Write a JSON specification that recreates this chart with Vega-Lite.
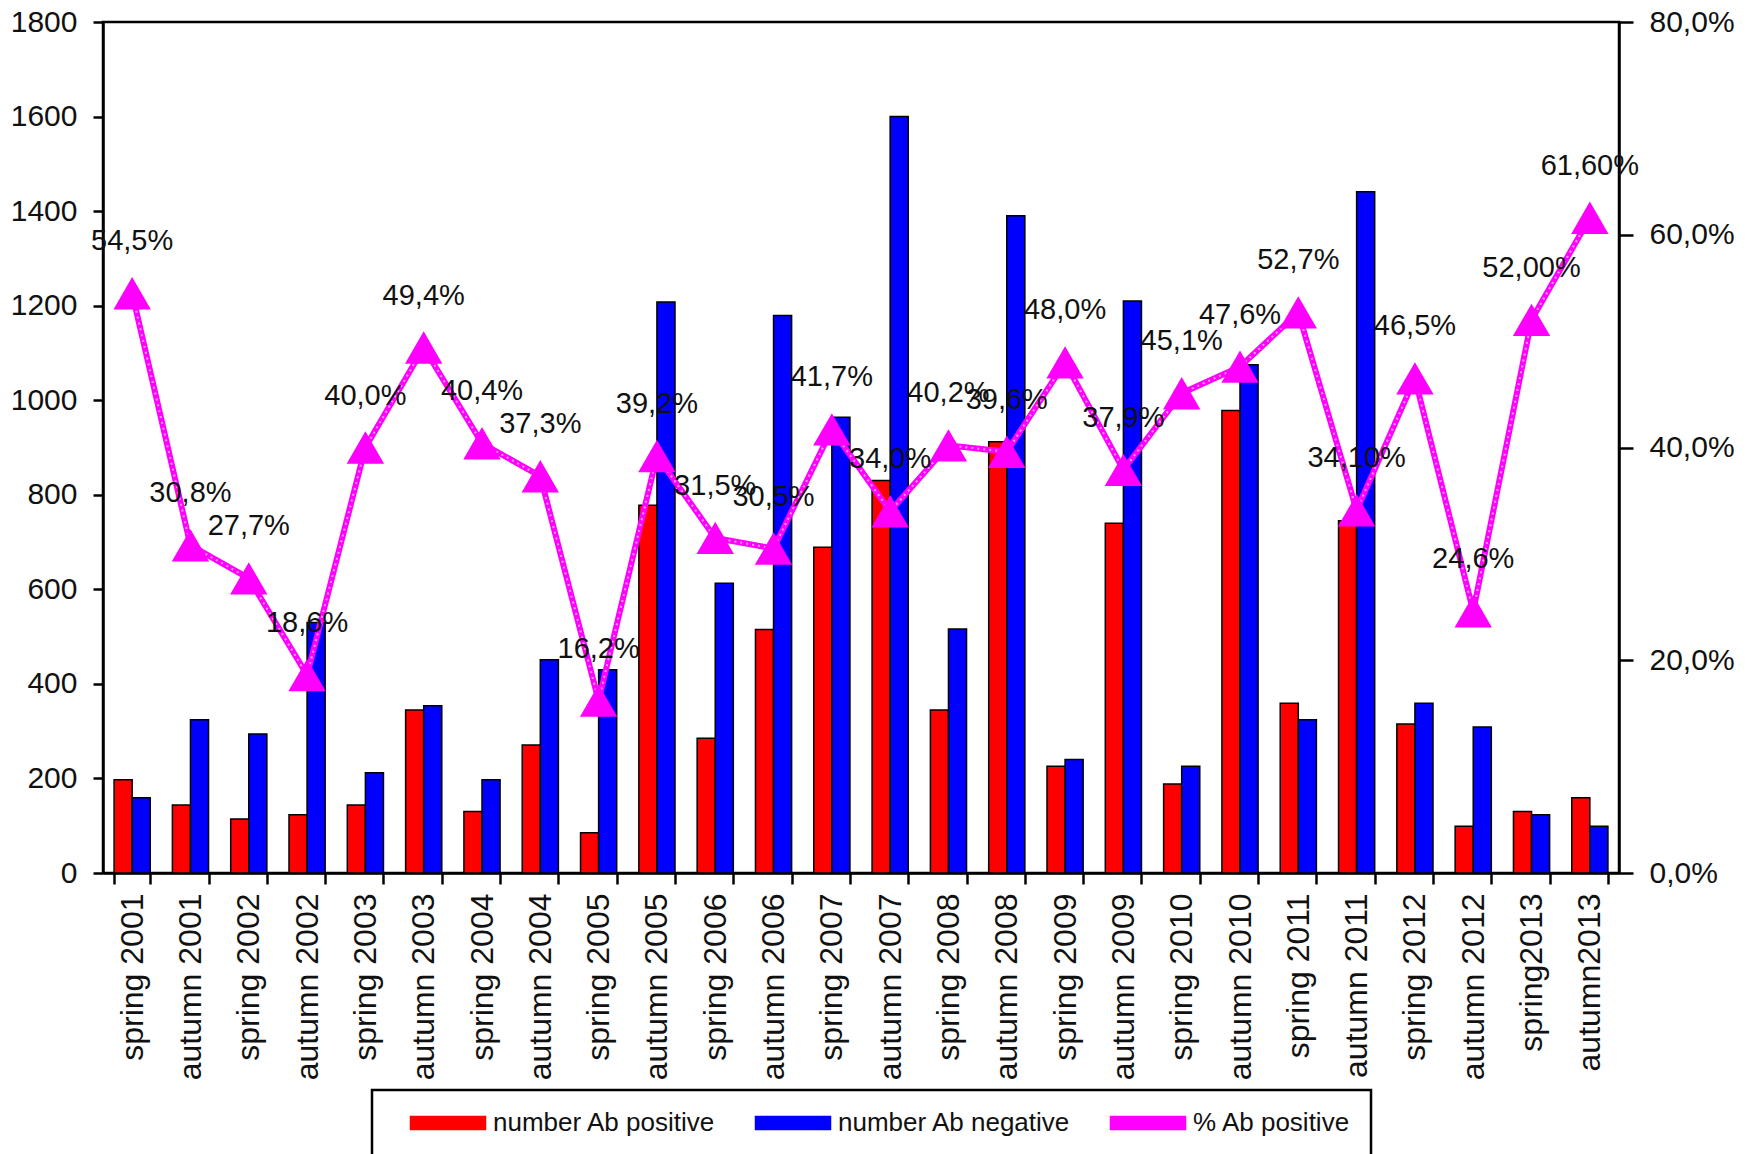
{
  "$schema": "https://vega.github.io/schema/vega-lite/v6.json",
  "width": 1516,
  "height": 851,
  "autosize": {"type": "none"},
  "padding": {"left": 103, "top": 22, "right": 135, "bottom": 281},
  "background": "white",
  "config": {
    "view": {"stroke": "black", "strokeWidth": 2.5},
    "font": "Liberation Sans",
    "axis": {"labelFont": "Liberation Sans", "labelColor": "#111", "domainColor": "black", "domainWidth": 2.5, "tickColor": "black", "tickWidth": 2.5, "grid": false},
    "legend": {"strokeWidth": 2.5}
  },
  "data": {
    "values": [
      {"period": "spring 2001", "number Ab positive": 197, "number Ab negative": 159, "pct": 54.5, "label": "54,5%"},
      {"period": "autumn 2001", "number Ab positive": 144, "number Ab negative": 324, "pct": 30.8, "label": "30,8%"},
      {"period": "spring 2002", "number Ab positive": 114, "number Ab negative": 294, "pct": 27.7, "label": "27,7%"},
      {"period": "autumn 2002", "number Ab positive": 123, "number Ab negative": 530, "pct": 18.6, "label": "18,6%"},
      {"period": "spring 2003", "number Ab positive": 144, "number Ab negative": 212, "pct": 40.0, "label": "40,0%"},
      {"period": "autumn 2003", "number Ab positive": 345, "number Ab negative": 354, "pct": 49.4, "label": "49,4%"},
      {"period": "spring 2004", "number Ab positive": 130, "number Ab negative": 197, "pct": 40.4, "label": "40,4%"},
      {"period": "autumn 2004", "number Ab positive": 271, "number Ab negative": 451, "pct": 37.3, "label": "37,3%"},
      {"period": "spring 2005", "number Ab positive": 85, "number Ab negative": 430, "pct": 16.2, "label": "16,2%"},
      {"period": "autumn 2005", "number Ab positive": 778, "number Ab negative": 1208, "pct": 39.2, "label": "39,2%"},
      {"period": "spring 2006", "number Ab positive": 285, "number Ab negative": 613, "pct": 31.5, "label": "31,5%"},
      {"period": "autumn 2006", "number Ab positive": 515, "number Ab negative": 1179, "pct": 30.5, "label": "30,5%"},
      {"period": "spring 2007", "number Ab positive": 689, "number Ab negative": 964, "pct": 41.7, "label": "41,7%"},
      {"period": "autumn 2007", "number Ab positive": 830, "number Ab negative": 1600, "pct": 34.0, "label": "34,0%"},
      {"period": "spring 2008", "number Ab positive": 345, "number Ab negative": 516, "pct": 40.2, "label": "40,2%"},
      {"period": "autumn 2008", "number Ab positive": 912, "number Ab negative": 1390, "pct": 39.6, "label": "39,6%"},
      {"period": "spring 2009", "number Ab positive": 226, "number Ab negative": 240, "pct": 48.0, "label": "48,0%"},
      {"period": "autumn 2009", "number Ab positive": 740, "number Ab negative": 1210, "pct": 37.9, "label": "37,9%"},
      {"period": "spring 2010", "number Ab positive": 188, "number Ab negative": 226, "pct": 45.1, "label": "45,1%"},
      {"period": "autumn 2010", "number Ab positive": 978, "number Ab negative": 1075, "pct": 47.6, "label": "47,6%"},
      {"period": "spring 2011", "number Ab positive": 359, "number Ab negative": 324, "pct": 52.7, "label": "52,7%"},
      {"period": "autumn 2011", "number Ab positive": 745, "number Ab negative": 1441, "pct": 34.1, "label": "34,10%"},
      {"period": "spring 2012", "number Ab positive": 315, "number Ab negative": 359, "pct": 46.5, "label": "46,5%"},
      {"period": "autumn 2012", "number Ab positive": 99, "number Ab negative": 309, "pct": 24.6, "label": "24,6%"},
      {"period": "spring2013", "number Ab positive": 130, "number Ab negative": 123, "pct": 52.0, "label": "52,00%"},
      {"period": "autumn2013", "number Ab positive": 159, "number Ab negative": 99, "pct": 61.6, "label": "61,60%"}
    ]
  },
  "encoding": {
    "x": {
      "field": "period",
      "type": "nominal",
      "sort": null,
      "scale": {"paddingInner": 0.38, "paddingOuter": 0.19},
      "axis": {
        "title": null,
        "labelAngle": 270,
        "labelAlign": "right",
        "labelBaseline": "middle",
        "labelFontSize": 32,
        "labelPadding": 9,
        "labelLimit": 400,
        "tickBand": "extent",
        "tickSize": 11
      }
    }
  },
  "layer": [
    {
      "transform": [{"fold": ["number Ab positive", "number Ab negative"], "as": ["series", "count"]}],
      "mark": {"type": "bar", "stroke": "black", "strokeWidth": 1.5},
      "encoding": {
        "xOffset": {"field": "series", "type": "nominal", "sort": ["number Ab positive", "number Ab negative"], "scale": {"paddingInner": 0, "paddingOuter": 0}},
        "y": {
          "field": "count",
          "type": "quantitative",
          "scale": {"domain": [0, 1800], "nice": false},
          "axis": {"title": null, "values": [0, 200, 400, 600, 800, 1000, 1200, 1400, 1600, 1800], "format": "d", "labelFontSize": 30, "tickSize": 10, "labelPadding": 16}
        },
        "color": {
          "field": "series",
          "type": "nominal",
          "scale": {"domain": ["number Ab positive", "number Ab negative", "% Ab positive"], "range": ["#ff0000", "#0000ff", "#ff00ff"]},
          "legend": {
            "orient": "none",
            "legendX": 269,
            "legendY": 1068,
            "direction": "horizontal",
            "title": null,
            "symbolType": "M-3.75,-0.65L3.75,-0.65L3.75,0.65L-3.75,0.65Z",
            "symbolSize": 400,
            "symbolOffset": 43,
            "symbolStrokeColor": "black",
            "symbolStrokeWidth": 1.5,
            "labelFont": "Liberation Sans",
            "labelFontSize": 26,
            "labelColor": "#111",
            "labelOffset": 32,
            "labelLimit": 400,
            "columnPadding": 21,
            "padding": 20,
            "strokeColor": "black",
            "encode": {
              "symbols": {
                "update": {
                  "stroke": {"signal": "datum.label === '% Ab positive' ? '#ff00ff' : 'black'"}
                }
              }
            }
          }
        }
      }
    },
    {
      "encoding": {
        "y": {
          "field": "pct",
          "type": "quantitative",
          "scale": {"domain": [0, 80], "nice": false},
          "axis": {"orient": "right", "title": null, "values": [0, 20, 40, 60, 80], "labelExpr": "replace(format(datum.value, '.1f'), '.', ',') + '%'", "labelFontSize": 30, "tickSize": 14, "labelPadding": 16}
        }
      },
      "layer": [
        {
          "mark": {"type": "line", "strokeWidth": 6},
          "encoding": {"color": {"datum": "% Ab positive"}}
        },
        {
          "mark": {"type": "line", "color": "#ffa0ff", "strokeWidth": 2, "strokeDash": [2, 4]},
          "encoding": {}
        },
        {
          "mark": {"type": "point", "shape": "triangle-up", "filled": true, "size": 1400, "color": "#ff00ff", "opacity": 1}
        },
        {
          "mark": {"type": "text", "dy": -52, "fontSize": 29, "font": "Liberation Sans", "color": "#111"},
          "encoding": {"text": {"field": "label"}}
        }
      ]
    }
  ],
  "resolve": {"scale": {"y": "independent"}}
}
